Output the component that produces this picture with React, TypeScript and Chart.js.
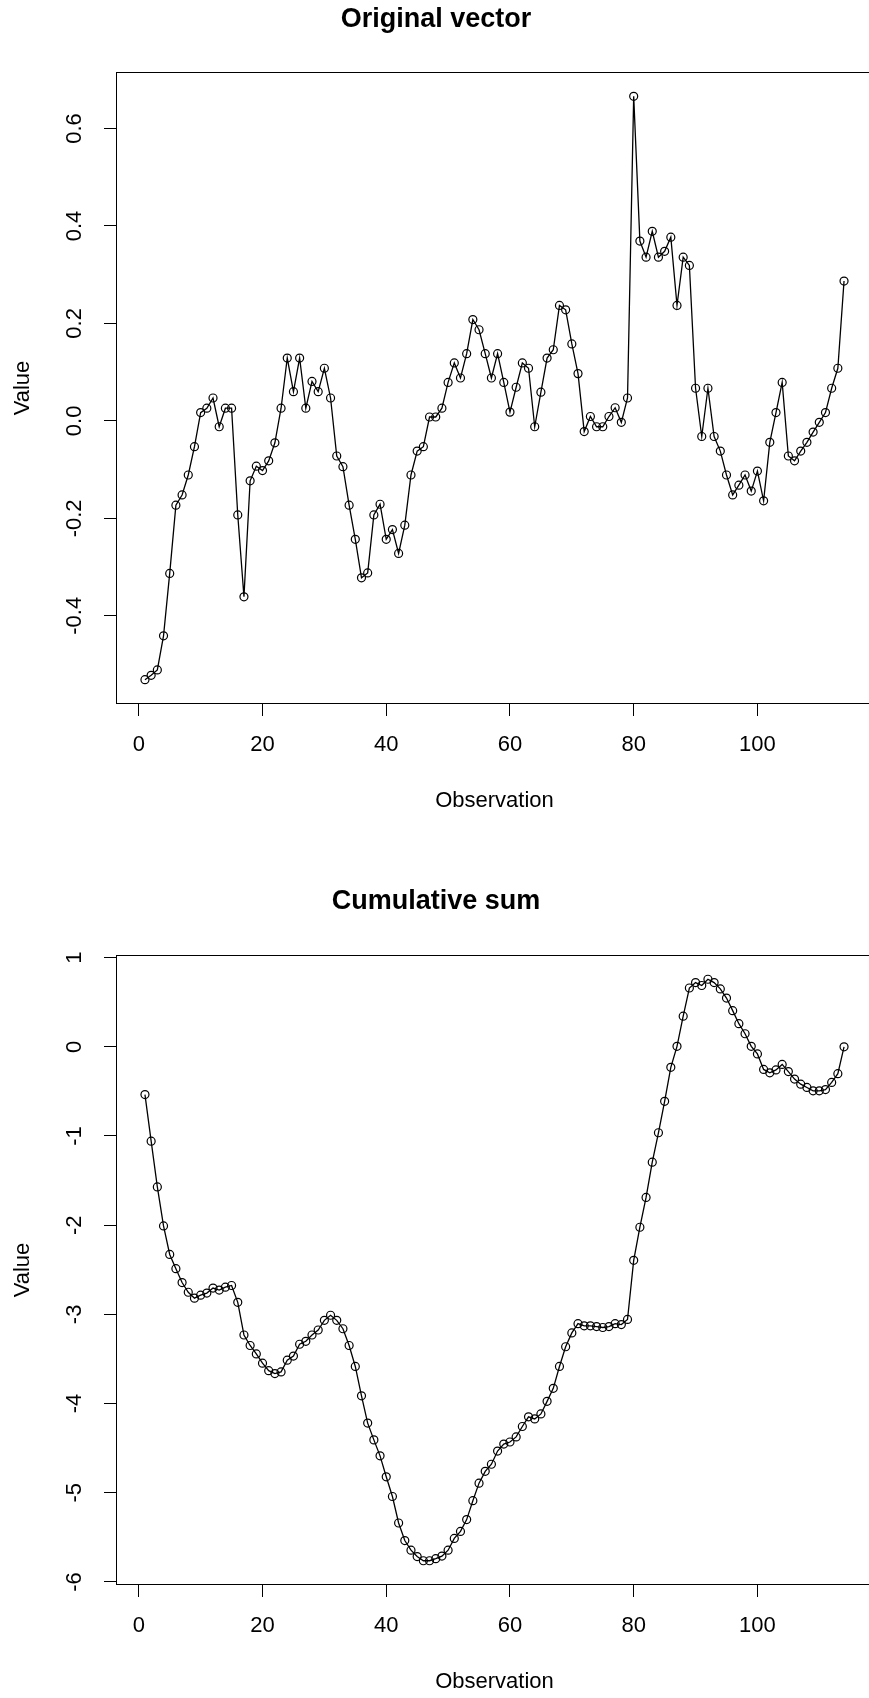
import { useEffect, useRef } from 'react';
import { Chart, registerables } from 'chart.js';

Chart.register(...registerables);

// ---- data ----
const observations = [
  1, 2, 3, 4, 5, 6, 7, 8, 9, 10, 11, 12, 13, 14, 15, 16, 17, 18, 19, 20,
  21, 22, 23, 24, 25, 26, 27, 28, 29, 30, 31, 32, 33, 34, 35, 36, 37, 38, 39, 40,
  41, 42, 43, 44, 45, 46, 47, 48, 49, 50, 51, 52, 53, 54, 55, 56, 57, 58, 59, 60,
  61, 62, 63, 64, 65, 66, 67, 68, 69, 70, 71, 72, 73, 74, 75, 76, 77, 78, 79, 80,
  81, 82, 83, 84, 85, 86, 87, 88, 89, 90, 91, 92, 93, 94, 95, 96, 97, 98, 99, 100,
  101, 102, 103, 104, 105, 106, 107, 108, 109, 110, 111, 112, 113, 114,
];

const originalValues = [
  -0.531, -0.522, -0.511, -0.441, -0.313, -0.173, -0.152, -0.111, -0.053, 0.017,
  0.026, 0.047, -0.012, 0.026, 0.026, -0.193, -0.361, -0.123, -0.093, -0.102,
  -0.082, -0.045, 0.026, 0.129, 0.06, 0.129, 0.026, 0.081, 0.06, 0.108,
  0.047, -0.072, -0.094, -0.173, -0.243, -0.322, -0.312, -0.193, -0.171, -0.243,
  -0.223, -0.272, -0.214, -0.111, -0.062, -0.053, 0.008, 0.008, 0.026, 0.079,
  0.119, 0.088, 0.138, 0.208, 0.187, 0.138, 0.088, 0.138, 0.079, 0.018,
  0.069, 0.119, 0.108, -0.012, 0.059, 0.129, 0.146, 0.237, 0.228, 0.158,
  0.097, -0.022, 0.009, -0.012, -0.012, 0.009, 0.027, -0.003, 0.047, 0.666,
  0.369, 0.336, 0.389, 0.336, 0.348, 0.377, 0.237, 0.336, 0.319, 0.067,
  -0.032, 0.067, -0.032, -0.062, -0.111, -0.152, -0.132, -0.111, -0.144, -0.103,
  -0.164, -0.044, 0.017, 0.079, -0.072, -0.082, -0.062, -0.044, -0.023, -0.003,
  0.017, 0.067, 0.108, 0.287,
];

const cumulativeValues = [
  -0.536, -1.058, -1.571, -2.008, -2.328, -2.488, -2.643, -2.752, -2.818, -2.785,
  -2.761, -2.705, -2.728, -2.695, -2.676, -2.865, -3.231, -3.349, -3.443, -3.547,
  -3.631, -3.664, -3.645, -3.514, -3.467, -3.335, -3.302, -3.231, -3.175, -3.067,
  -3.01, -3.067, -3.161, -3.349, -3.584, -3.913, -4.219, -4.407, -4.586, -4.821,
  -5.042, -5.339, -5.536, -5.644, -5.715, -5.762, -5.762, -5.739, -5.71, -5.644,
  -5.512, -5.433, -5.301, -5.089, -4.892, -4.76, -4.68, -4.532, -4.454, -4.431,
  -4.374, -4.257, -4.149, -4.172, -4.116, -3.975, -3.829, -3.584, -3.363, -3.208,
  -3.104, -3.128, -3.128, -3.137, -3.147, -3.137, -3.104, -3.114, -3.057, -2.394,
  -2.023, -1.689, -1.294, -0.964, -0.611, -0.23, 0.005, 0.343, 0.659, 0.72,
  0.687, 0.757, 0.72, 0.649, 0.546, 0.405, 0.259, 0.146, 0.005, -0.08,
  -0.254, -0.292, -0.259, -0.198, -0.278, -0.362, -0.419, -0.456, -0.494, -0.494,
  -0.48, -0.4, -0.301, 0.0,
];

const xTicks = [0, 20, 40, 60, 80, 100];
const xTickLabels = ['0', '20', '40', '60', '80', '100'];
const topYTicks = [-0.4, -0.2, 0, 0.2, 0.4, 0.6];
const topYTickLabels = ['-0.4', '-0.2', '0.0', '0.2', '0.4', '0.6'];
const bottomYTicks = [-6, -5, -4, -3, -2, -1, 0, 1];
const bottomYTickLabels = ['-6', '-5', '-4', '-3', '-2', '-1', '0', '1'];

const topTitle = 'Original vector';
const bottomTitle = 'Cumulative sum';
const xAxisTitle = 'Observation';
const yAxisTitle = 'Value';

// ---- styling / layout ----
const FONT = "'Liberation Sans', Arial, Helvetica, sans-serif";
const CANVAS_W = 990;
const CANVAS_H = 849;
const TICK_FONT = 22;
const TITLE_FONT = 27;

function rRange(vals: number[]): [number, number] {
  const mn = Math.min(...vals);
  const mx = Math.max(...vals);
  const d = (mx - mn) * 0.04;
  return [mn - d, mx + d];
}

const boxPlugin = {
  id: 'rbox',
  afterDatasetsDraw(chart: any) {
    const { ctx, chartArea } = chart;
    const { left, top, right, bottom } = chartArea;
    ctx.save();
    ctx.strokeStyle = '#000';
    ctx.lineWidth = 1;
    ctx.strokeRect(left - 0.5, top - 0.5, right - left + 1, bottom - top + 1);
    ctx.restore();
  },
};

interface PanelSpec {
  values: number[];
  yTicks: number[];
  yTickLabels: string[];
  title: string;
  titlePadTop: number;
  titlePadBottom: number;
  bottomPad: number;
  yLabelPad: number;
}

function makeConfig(spec: PanelSpec): any {
  const [xmin, xmax] = rRange(observations);
  const [ymin, ymax] = rRange(spec.values);
  const tickFont = { family: FONT, size: TICK_FONT };
  const grid = {
    display: true,
    drawOnChartArea: false,
    drawTicks: true,
    tickLength: 13,
    color: '#000',
    lineWidth: 1,
  };
  return {
    type: 'line',
    data: {
      datasets: [
        {
          data: observations.map((x, i) => ({ x, y: spec.values[i] })),
          borderColor: '#000',
          borderWidth: 1.3,
          tension: 0,
          fill: false,
          pointStyle: 'circle',
          pointRadius: 4,
          pointBorderWidth: 1.2,
          pointBorderColor: '#000',
          pointBackgroundColor: 'rgba(0,0,0,0)',
        },
      ],
    },
    options: {
      animation: false,
      responsive: false,
      events: [],
      layout: { padding: { left: 0, right: CANVAS_W - 872, top: 0, bottom: spec.bottomPad } },
      plugins: {
        legend: { display: false },
        tooltip: { enabled: false },
        title: {
          display: true,
          text: spec.title,
          color: '#000',
          font: { family: FONT, size: TITLE_FONT, weight: 'bold' },
          padding: { top: spec.titlePadTop, bottom: spec.titlePadBottom },
        },
      },
      scales: {
        x: {
          type: 'linear',
          min: xmin,
          max: xmax,
          afterBuildTicks: (s: any) => {
            s.ticks = xTicks.map((v) => ({ value: v }));
          },
          afterFit: (s: any) => {
            s.height = 111;
          },
          ticks: {
            color: '#000',
            font: tickFont,
            padding: 16,
            autoSkip: false,
            maxRotation: 0,
            minRotation: 0,
            callback: (_v: any, i: number) => xTickLabels[i],
          },
          grid,
          border: { display: false },
          title: {
            display: true,
            text: xAxisTitle,
            color: '#000',
            font: tickFont,
            padding: { top: 0, bottom: 0 },
          },
        },
        y: {
          type: 'linear',
          min: ymin,
          max: ymax,
          afterBuildTicks: (s: any) => {
            s.ticks = spec.yTicks.map((v) => ({ value: v }));
          },
          afterFit: (s: any) => {
            s.width = 117;
          },
          ticks: {
            color: '#000',
            font: tickFont,
            padding: spec.yLabelPad,
            autoSkip: false,
            minRotation: 90,
            maxRotation: 90,
            crossAlign: 'center',
            callback: (_v: any, i: number) => spec.yTickLabels[i],
          },
          grid,
          border: { display: false },
          title: {
            display: true,
            text: yAxisTitle,
            color: '#000',
            font: tickFont,
            padding: { top: 9.5, bottom: 0 },
          },
        },
      },
    },
    plugins: [boxPlugin],
  };
}

function Panel({ spec, top }: { spec: PanelSpec; top: number }) {
  const ref = useRef<HTMLCanvasElement | null>(null);
  useEffect(() => {
    if (!ref.current) return;
    const chart = new Chart(ref.current, makeConfig(spec));
    return () => chart.destroy();
  }, [spec]);
  return (
    <canvas
      ref={ref}
      width={CANVAS_W}
      height={CANVAS_H}
      style={{ position: 'absolute', left: 0, top, width: CANVAS_W, height: CANVAS_H, display: 'block' }}
    />
  );
}

const topSpec: PanelSpec = {
  values: originalValues,
  yTicks: topYTicks,
  yTickLabels: topYTickLabels,
  title: topTitle,
  titlePadTop: 3.3,
  titlePadBottom: 37.3,
  bottomPad: 35,
  yLabelPad: 10.5,
};

const bottomSpec: PanelSpec = {
  values: cumulativeValues,
  yTicks: bottomYTicks,
  yTickLabels: bottomYTickLabels,
  title: bottomTitle,
  titlePadTop: 36,
  titlePadBottom: 38.6,
  bottomPad: 3,
  yLabelPad: 19.7,
};

export default function App() {
  return (
    <div
      style={{
        position: 'absolute',
        left: 0,
        top: 0,
        width: 869,
        height: 1698,
        overflow: 'hidden',
        background: '#fff',
      }}
    >
      <Panel spec={topSpec} top={0} />
      <Panel spec={bottomSpec} top={849} />
    </div>
  );
}
